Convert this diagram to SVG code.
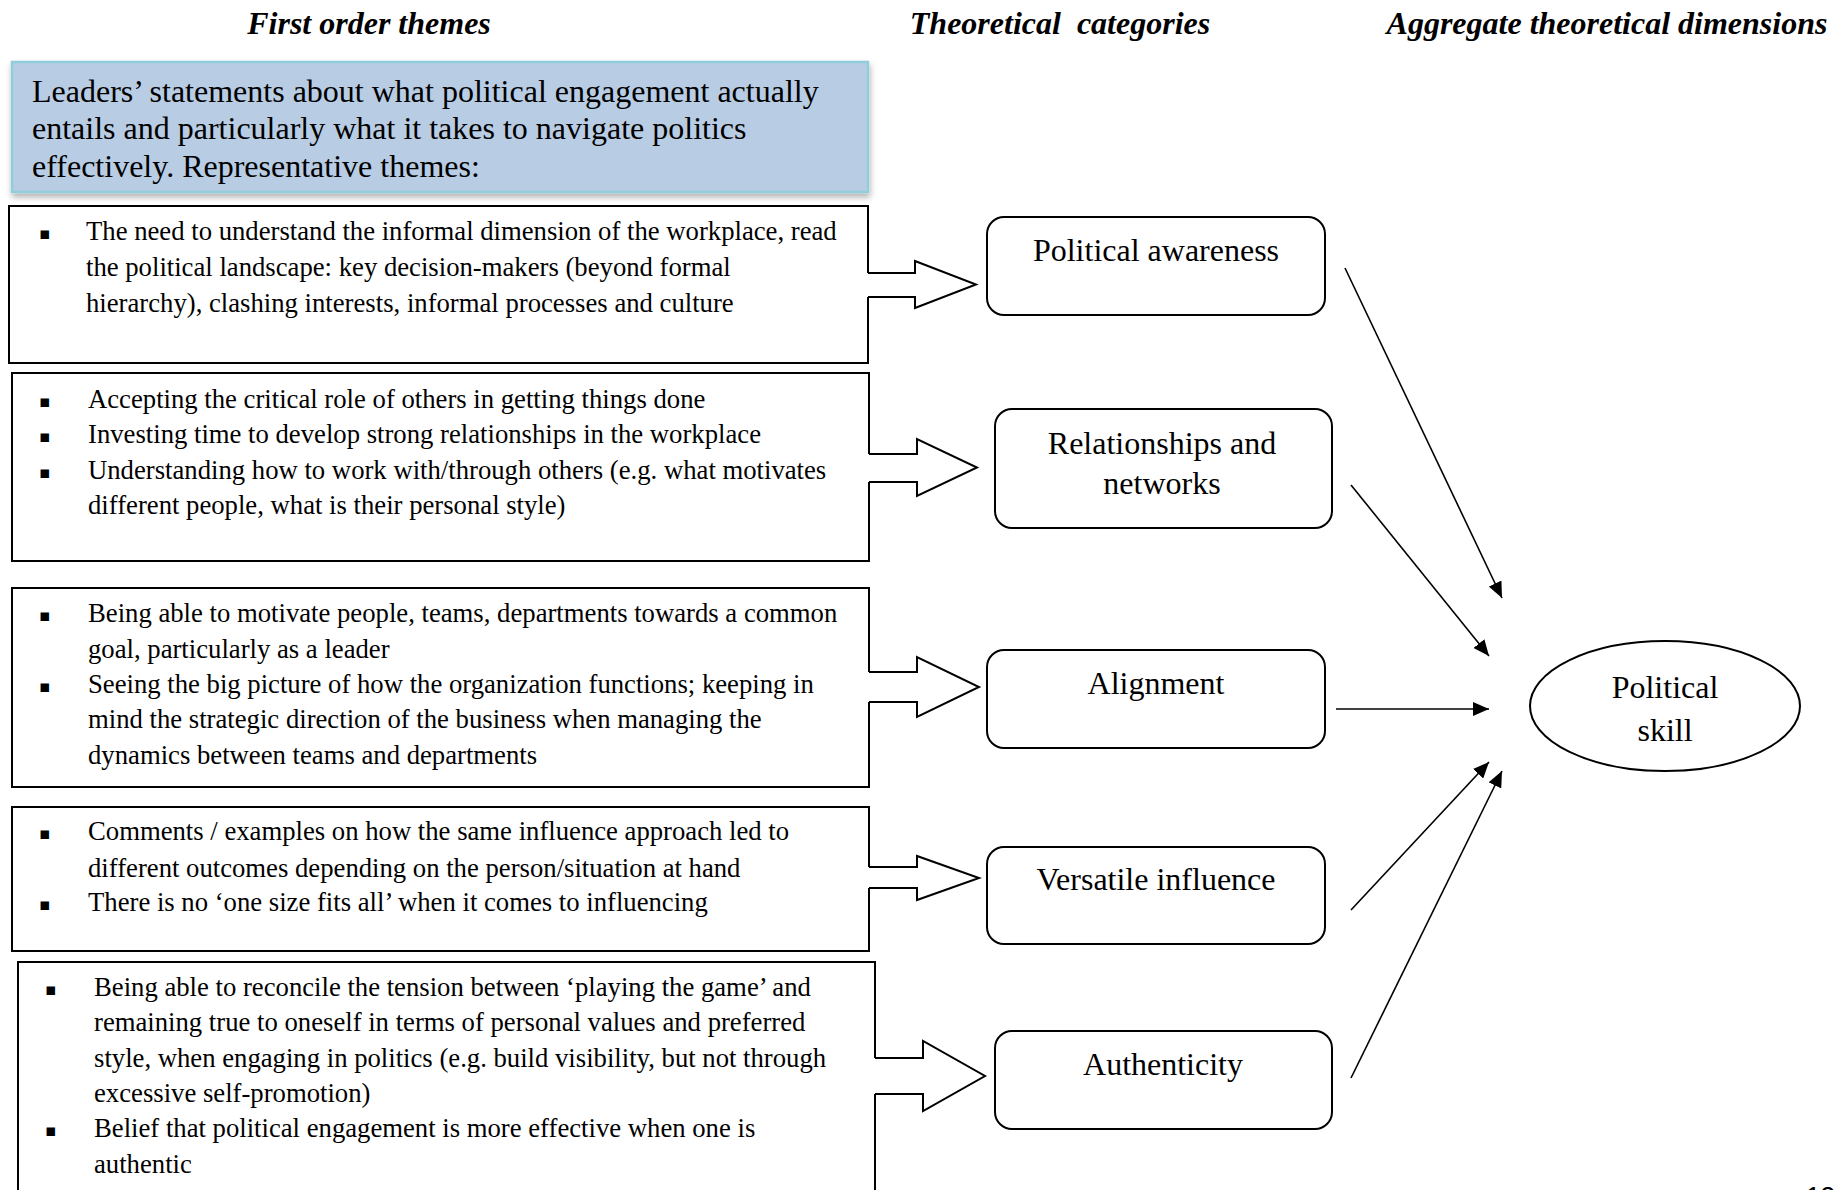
<svg xmlns="http://www.w3.org/2000/svg" width="1847" height="1190" viewBox="0 0 1847 1190">
<style>
.hdr{font-family:"Liberation Serif","Times New Roman",serif;font-size:32px;font-weight:bold;font-style:italic;fill:#000;text-anchor:middle}
.big{font-family:"Liberation Serif","Times New Roman",serif;font-size:32px;fill:#000}
.mid{text-anchor:middle}
.body{font-family:"Liberation Serif","Times New Roman",serif;font-size:26.7px;fill:#000}
.bul{font-family:"DejaVu Sans",sans-serif;font-size:17px;fill:#000}
.box{fill:#fff;stroke:#000;stroke-width:2}
.blk{fill:#fff;stroke:#000;stroke-width:2;stroke-linejoin:miter}
.cat{fill:#fff;stroke:#000;stroke-width:2}
.con{stroke:#000;stroke-width:1.6;fill:none;marker-end:url(#ah)}
</style>
<defs>
<marker id="ah" markerWidth="16" markerHeight="14" refX="16" refY="7" orient="auto" markerUnits="userSpaceOnUse">
<path d="M0,0 L16,7 L0,14 Z" fill="#000"/>
</marker>
<filter id="sh" x="-5%" y="-10%" width="110%" height="130%">
<feDropShadow dx="1" dy="4" stdDeviation="3" flood-color="#000" flood-opacity="0.3"/>
</filter>
</defs>
<rect width="1847" height="1190" fill="#fff"/>

<g id="headers">
<text class="hdr" x="369" y="34">First order themes</text>
<text class="hdr" x="1060" y="34">Theoretical&#160; categories</text>
<text class="hdr" x="1607" y="34">Aggregate theoretical dimensions</text>
</g>

<g id="intro">
<rect x="12" y="62" width="856" height="130" fill="#b8cce4" stroke="#92cddc" stroke-width="2.5" filter="url(#sh)"/>
<text class="big" x="32" y="101.5">Leaders’ statements about what political engagement actually</text>
<text class="big" x="32" y="139">entails and particularly what it takes to navigate politics</text>
<text class="big" x="32" y="176.5">effectively. Representative themes:</text>
</g>

<g id="theme1">
<path class="box" d="M868,297 V363 H9 V206 H868 V273"/>
<text class="bul" x="39" y="239">▪</text>
<text class="body" x="86" y="240">The need to understand the informal dimension of the workplace, read</text>
<text class="body" x="86" y="276">the political landscape: key decision-makers (beyond formal</text>
<text class="body" x="86" y="312">hierarchy), clashing interests, informal processes and culture</text>
</g>

<g id="theme2">
<path class="box" d="M869,482 V561 H12 V373 H869 V454"/>
<text class="bul" x="39" y="407">▪</text>
<text class="bul" x="39" y="442">▪</text>
<text class="bul" x="39" y="478">▪</text>
<text class="body" x="88" y="408">Accepting the critical role of others in getting things done</text>
<text class="body" x="88" y="443">Investing time to develop strong relationships in the workplace</text>
<text class="body" x="88" y="479">Understanding how to work with/through others (e.g. what motivates</text>
<text class="body" x="88" y="514">different people, what is their personal style)</text>
</g>

<g id="theme3">
<path class="box" d="M869,702 V787 H12 V588 H869 V672"/>
<text class="bul" x="39" y="621">▪</text>
<text class="bul" x="39" y="692">▪</text>
<text class="body" x="88" y="622">Being able to motivate people, teams, departments towards a common</text>
<text class="body" x="88" y="657.5">goal, particularly as a leader</text>
<text class="body" x="88" y="693">Seeing the big picture of how the organization functions; keeping in</text>
<text class="body" x="88" y="728">mind the strategic direction of the business when managing the</text>
<text class="body" x="88" y="763.5">dynamics between teams and departments</text>
</g>

<g id="theme4">
<path class="box" d="M869,888 V951 H12 V807 H869 V867"/>
<text class="bul" x="39" y="839">▪</text>
<text class="bul" x="39" y="910">▪</text>
<text class="body" x="88" y="840">Comments / examples on how the same influence approach led to</text>
<text class="body" x="88" y="876.5">different outcomes depending on the person/situation at hand</text>
<text class="body" x="88" y="911">There is no ‘one size fits all’ when it comes to influencing</text>
</g>

<g id="theme5">
<path class="box" d="M875,1094 V1200 M875,1200 H18 V962 H875 V1058" fill="none"/>
<text class="bul" x="45" y="995">▪</text>
<text class="bul" x="45" y="1136">▪</text>
<text class="body" x="94" y="996">Being able to reconcile the tension between ‘playing the game’ and</text>
<text class="body" x="94" y="1031">remaining true to oneself in terms of personal values and preferred</text>
<text class="body" x="94" y="1066.5">style, when engaging in politics (e.g. build visibility, but not through</text>
<text class="body" x="94" y="1102">excessive self-promotion)</text>
<text class="body" x="94" y="1137">Belief that political engagement is more effective when one is</text>
<text class="body" x="94" y="1172.5">authentic</text>
</g>

<g id="block-arrows">
<path class="blk" d="M868,273 H915 V261 L976,284.5 L915,308 V297 H868"/>
<path class="blk" d="M869,454 H917 V439 L977,467.5 L917,496 V482 H869"/>
<path class="blk" d="M869,672 H917 V657 L979,687 L917,717 V702 H869"/>
<path class="blk" d="M869,867 H917 V856 L979,878 L917,900 V888 H869"/>
<path class="blk" d="M875,1058 H923 V1041 L985,1076 L923,1111 V1094 H875"/>
</g>

<g id="cat-awareness">
<rect class="cat" x="987" y="217" width="338" height="98" rx="17"/>
<text class="big mid" x="1156" y="261">Political awareness</text>
</g>
<g id="cat-relationships">
<rect class="cat" x="995" y="409" width="337" height="119" rx="17"/>
<text class="big mid" x="1162" y="454">Relationships and</text>
<text class="big mid" x="1162" y="494">networks</text>
</g>
<g id="cat-alignment">
<rect class="cat" x="987" y="650" width="338" height="98" rx="17"/>
<text class="big mid" x="1156" y="694">Alignment</text>
</g>
<g id="cat-versatile">
<rect class="cat" x="987" y="847" width="338" height="97" rx="17"/>
<text class="big mid" x="1156" y="890">Versatile influence</text>
</g>
<g id="cat-authenticity">
<rect class="cat" x="995" y="1031" width="337" height="98" rx="17"/>
<text class="big mid" x="1163" y="1075">Authenticity</text>
</g>

<g id="political-skill">
<ellipse cx="1665" cy="706" rx="135" ry="65" fill="#fff" stroke="#000" stroke-width="2"/>
<text class="big mid" x="1665" y="698">Political</text>
<text class="big mid" x="1665" y="741">skill</text>
</g>

<g id="connectors">
<line class="con" x1="1345" y1="268" x2="1502" y2="598"/>
<line class="con" x1="1351" y1="485" x2="1489" y2="656"/>
<line class="con" x1="1336" y1="709" x2="1489" y2="709"/>
<line class="con" x1="1351" y1="910" x2="1489" y2="762"/>
<line class="con" x1="1351" y1="1078" x2="1502" y2="771"/>
</g>

<text x="1806" y="1205" font-family="Liberation Sans, Arial, sans-serif" font-size="26" fill="#000">12</text>
</svg>
